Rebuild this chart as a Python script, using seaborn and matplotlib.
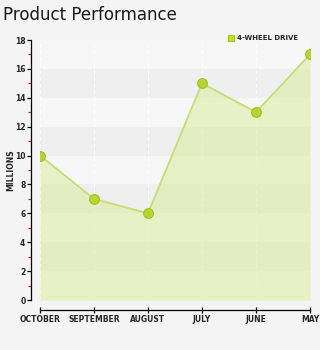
import matplotlib
matplotlib.use("Agg")
import matplotlib.pyplot as plt
import seaborn as sns
import pandas as pd
import numpy as np

months = ["OCTOBER", "SEPTEMBER", "AUGUST", "JULY", "JUNE", "MAY"]
values = [10, 7, 6, 15, 13, 17]
series_name = "4-WHEEL DRIVE"
y_major = [0, 2, 4, 6, 8, 10, 12, 14, 16, 18]
y_minor = [1, 3, 5, 7, 9, 11, 13, 15, 17]

sns.set_style("white")
plt.rcParams["font.family"] = ["DejaVu Sans"]

df = pd.DataFrame({"pos": np.arange(len(months)), "month": months, "value": values})

fig = plt.figure(figsize=(3.2, 3.5), dpi=100, facecolor="#f4f4f4")
ax = fig.add_axes([40/320, 50/350, 270/320, 260/350])
ax.set_facecolor("#f7f7f7")

# alternating bands
for i, lo in enumerate(y_major[:-1]):
    if i % 2 == 1:
        ax.axhspan(lo, lo + 2, color="#efefef", zorder=0, lw=0)

# vertical dashed white grid
for p in df["pos"]:
    ax.axvline(p, color="white", lw=0.8, ls=(0, (3, 3)), zorder=1)

ax.fill_between(df["pos"], df["value"], 0, color="#dcec9c", alpha=0.55, lw=0, zorder=2)
sns.lineplot(data=df, x="pos", y="value", ax=ax, color="#c4de74", lw=1.3,
             marker="o", markersize=7, markerfacecolor="#b8d432",
             markeredgecolor="#a2c021", markeredgewidth=0.8, zorder=3,
             label=series_name, legend=False)

ax.set_xlim(0, 5)
ax.set_ylim(0, 18)
ax.set_xticks(df["pos"])
ax.set_xticklabels(months)
ax.set_yticks(y_major)
ax.set_yticks(y_minor, minor=True)
ax.set_xlabel("")
ax.set_ylabel("MILLIONS", fontsize=5.5, fontweight="bold")
ax.yaxis.set_label_coords(-25/270, 0.5)

for s in ["top", "right"]:
    ax.spines[s].set_visible(False)
ax.spines["left"].set_position(("outward", 6.5))
ax.spines["bottom"].set_position(("outward", 7.2))
ax.spines["left"].set_color("black")
ax.spines["bottom"].set_color("black")
ax.spines["left"].set_linewidth(0.9)
ax.spines["bottom"].set_linewidth(0.9)

ax.tick_params(axis="y", which="major", length=3, width=0.9, color="black",
               labelsize=5.5, pad=1, direction="out", left=True)
ax.tick_params(axis="y", which="minor", length=2.5, width=0.9, color="#e02020",
               direction="out", left=True)
ax.tick_params(axis="x", which="major", length=5, width=0.9, color="black",
               labelsize=5.5, pad=1, direction="inout", bottom=True)
for lab in ax.get_xticklabels() + ax.get_yticklabels():
    lab.set_fontweight("bold")

fig.text(3/320, 1 - 15/350, "Product Performance", fontsize=12, va="center", ha="left", color="#1a1a1a")

# legend
leg = ax.legend(loc="upper right", bbox_to_anchor=(1 - 12/270, 1 + 5/260), frameon=False,
                fontsize=5, handlelength=0.7, handletextpad=0.5, borderaxespad=0,
                borderpad=0)
for h in leg.legend_handles:
    h.set_linestyle("none")
    h.set_marker("s")
    h.set_markersize(5)
    h.set_markerfacecolor("#c0e020")
    h.set_markeredgecolor("#a8c820")
for t in leg.get_texts():
    t.set_fontweight("bold")

fig.savefig("out.png", dpi=100, facecolor=fig.get_facecolor())
